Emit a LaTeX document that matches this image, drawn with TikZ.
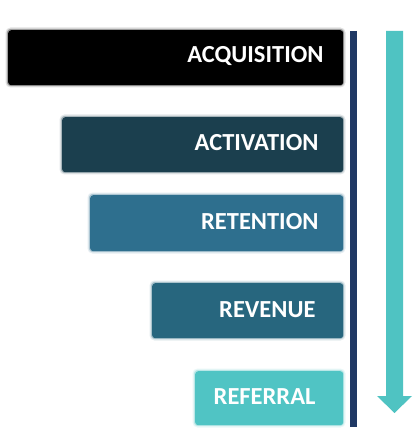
\documentclass[tikz,border=0pt]{standalone}
\usepackage{fontspec}
\setmainfont{Carlito}
\begin{document}
\begin{tikzpicture}[x=1pt,y=-1pt,
  stage/.style={rectangle, rounded corners=3pt, inner sep=0pt, anchor=north west},
  lbl/.style={text=white, font=\bfseries\fontsize{24.5}{24.5}\selectfont, anchor=east}
]
\definecolor{cActi}{HTML}{1B3F4E}
\definecolor{cRete}{HTML}{2E6F8E}
\definecolor{cReve}{HTML}{27667E}
\definecolor{cRefe}{HTML}{50C4C4}
\definecolor{cNavy}{HTML}{1F3864}
\definecolor{cArrow}{HTML}{4FC3C2}
\useasboundingbox (0,0) rectangle (419,438);
\fill[white] (0,0) rectangle (419,438);
% stages: soft halo then box
\foreach \x/\ya/\yb/\c in {8/30/85/black, 62/117/172/cActi, 90/195/251/cRete, 152/283/338/cReve, 195/371/425/cRefe}{
  \fill[\c, opacity=0.12, rounded corners=5pt] (\x-2.5,\ya-2.5) rectangle (345.5,\yb+2.5);
  \fill[\c, opacity=0.3, rounded corners=4pt] (\x-1.2,\ya-1.2) rectangle (344.2,\yb+1.2);
}
\node[stage, fill=black, minimum width=335pt, minimum height=55pt] (acq) at (8,30) {};
\node[stage, fill=cActi, minimum width=281pt, minimum height=55pt] (act) at (62,117) {};
\node[stage, fill=cRete, minimum width=253pt, minimum height=56pt] (ret) at (90,195) {};
\node[stage, fill=cReve, minimum width=191pt, minimum height=55pt] (rev) at (152,283) {};
\node[stage, fill=cRefe, minimum width=148pt, minimum height=54pt] (ref) at (195,371) {};
\node[lbl] (tacq) at (327,56) {ACQUISITION};
\node[lbl] (tact) at (322,143) {ACTIVATION};
\node[lbl] (tret) at (322,222) {RETENTION};
\node[lbl] (trev) at (319,310) {REVENUE};
\node[lbl] (tref) at (319,397) {REFERRAL};
% navy line
\coordinate (ltop) at (353.5,31);
\coordinate (lbot) at (353.5,427);
\draw[cNavy, line width=7pt] (ltop) -- (lbot);
% teal arrow
\fill[cArrow] (386,31) -- (403,31) -- (403,396) -- (412,396) -- (394.5,413) -- (377,396) -- (386,396) -- cycle;
\end{tikzpicture}
\end{document}
